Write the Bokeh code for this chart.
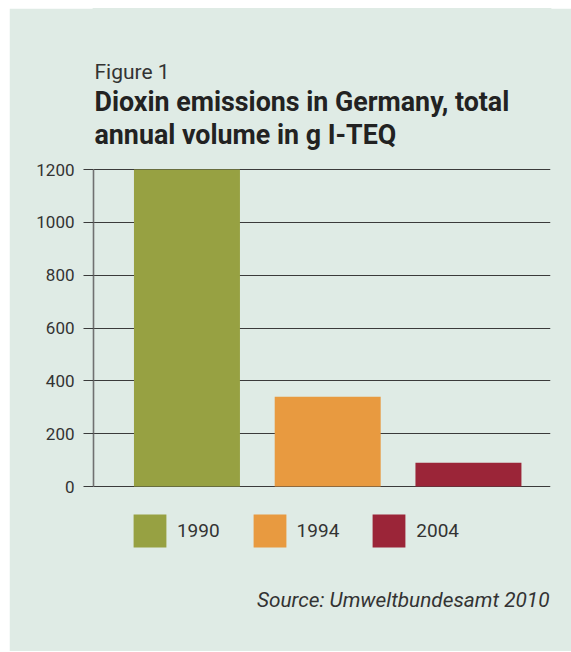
from bokeh.plotting import figure
from bokeh.models import (ColumnDataSource, Range1d, Label, Legend, LegendItem,
                          FixedTicker, NumeralTickFormatter)
from bokeh.embed import file_html
from bokeh.resources import INLINE

# ---- data ----
years = ["1990", "1994", "2004"]
emissions = [1200, 340, 90]
colors = ["#97a142", "#e89a40", "#9b2538"]
y_ticks = [0, 200, 400, 600, 800, 1000, 1200]

title_small = "Figure 1"
title_line1 = "Dioxin emissions in Germany, total"
title_line2 = "annual volume in g I-TEQ"
source_text = "Source: Umweltbundesamt 2010"

BG = "#dfebe5"
FONT = "Roboto"

# ---- layout (page pixels) ----
OFF_X, OFF_Y = 9, 8                 # white margin around the panel
W, H = 571 - OFF_X, 651 - OFF_Y     # figure size
F_LEFT, F_RIGHT = 93, 550           # frame edges (page px)
Y0_PX, YTOP_PX = 486.0, 169.06      # pixel rows of value 0 and 1200
ML = F_LEFT - OFF_X
MR = (OFF_X + W) - F_RIGHT
FW = F_RIGHT - F_LEFT
XR = (-0.664, 2.583)
S = 1200.0 / (Y0_PX - YTOP_PX)      # data units per pixel
YR = ((Y0_PX - (OFF_Y + H)) * S, 1200 + (YTOP_PX - OFF_Y) * S)


def to_data(px, py):
    x = XR[0] + (px - F_LEFT) * (XR[1] - XR[0]) / FW
    y = (Y0_PX - py) * S
    return x, y


p = figure(width=W, height=H, output_backend="svg", toolbar_location=None,
           x_range=Range1d(*XR), y_range=Range1d(*YR),
           x_axis_location=None, min_border_left=ML, min_border_right=MR,
           min_border_top=0, min_border_bottom=0)
p.margin = (OFF_Y, 0, 0, OFF_X)
p.background_fill_color = BG
p.border_fill_color = BG
p.outline_line_color = BG
p.outline_line_width = 2

src = ColumnDataSource(dict(x=list(range(len(years))), top=emissions,
                            color=colors, year=years))
r = p.vbar(x="x", top="top", bottom=0, width=0.753, source=src,
           fill_color="color", line_color=None)

# axis / grid
ax = p.yaxis[0]
ax.ticker = FixedTicker(ticks=y_ticks)
ax.formatter = NumeralTickFormatter(format="0")
ax.bounds = (0, 1200)
ax.axis_line_color = "#707070"
ax.axis_line_width = 1.6
ax.major_tick_out = 10
ax.major_tick_in = 0
ax.major_tick_line_color = "#3a3a3a"
ax.major_tick_line_width = 1.2
ax.minor_tick_line_color = None
ax.major_label_standoff = 9
ax.major_label_text_font = FONT
ax.major_label_text_font_size = "17px"
ax.major_label_text_color = "#333333"

p.xgrid.grid_line_color = None
p.ygrid.ticker = FixedTicker(ticks=y_ticks)
p.ygrid.grid_line_color = "#3a3a3a"
p.ygrid.grid_line_width = 1.2

# titles
x, y = to_data(94, 71.7)
p.add_layout(Label(x=x, y=y, text=title_small, text_font=FONT,
                   text_font_size="21px", text_color="#333333",
                   text_baseline="alphabetic", text_align="left"))
x, y = to_data(94, 101.7)
p.add_layout(Label(x=x, y=y, text=title_line1, text_font=FONT,
                   text_font_size="26.8px", text_font_style="bold",
                   text_color="#222222", text_baseline="alphabetic"))
x, y = to_data(94, 134.2)
p.add_layout(Label(x=x, y=y, text=title_line2, text_font=FONT,
                   text_font_size="26.8px", text_font_style="bold",
                   text_color="#222222", text_baseline="alphabetic"))

# source
x, y = to_data(549, 599)
p.add_layout(Label(x=x, y=y, text=source_text, text_font=FONT,
                   text_font_size="20.8px", text_font_style="italic",
                   text_color="#333333", text_baseline="alphabetic",
                   text_align="right"))

# legend (legend glyphs are inset by 10% of the glyph box)
GW = 41
inset = GW * 0.1
items = [LegendItem(label=yr, renderers=[r], index=i) for i, yr in enumerate(years)]
legend = Legend(items=items, orientation="horizontal",
                location=(133 - inset - F_LEFT, (OFF_Y + H) - (546.7 + inset)),
                glyph_width=GW, glyph_height=GW, label_standoff=7, spacing=29,
                padding=0, margin=0, border_line_color=None,
                background_fill_alpha=0, label_text_font=FONT,
                label_text_font_size="19px", label_text_color="#333333",
                label_height=GW)
p.add_layout(legend, "center")

open("out.html", "w").write(file_html(p, INLINE))
